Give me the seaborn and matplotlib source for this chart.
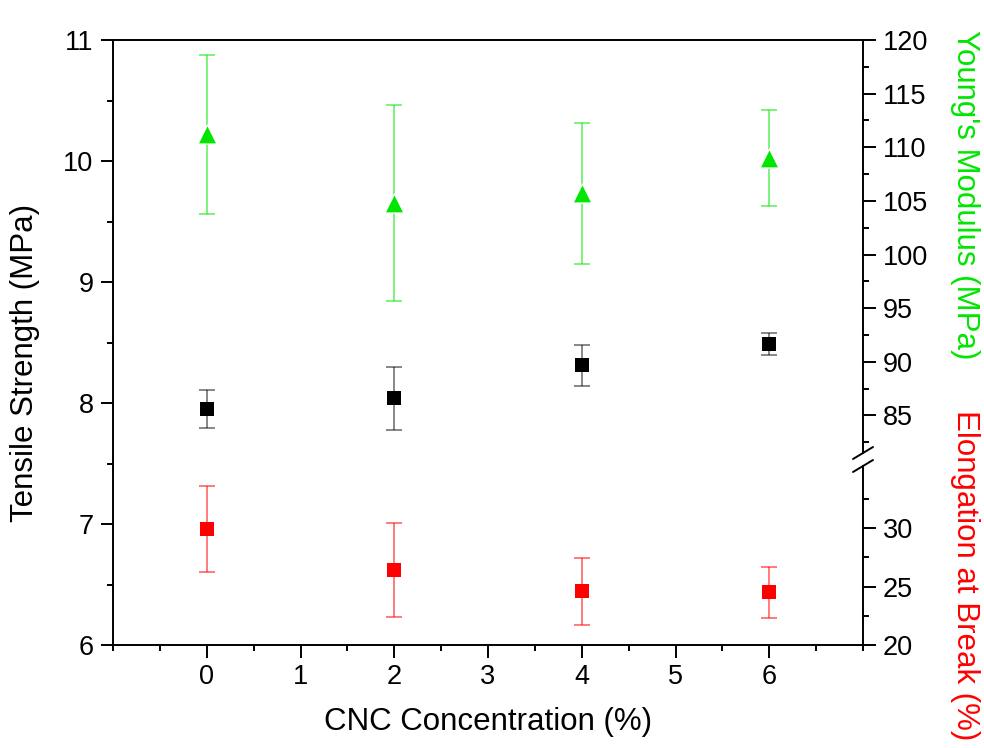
import matplotlib
matplotlib.use('Agg')
import matplotlib.pyplot as plt
import seaborn as sns
import pandas as pd
from matplotlib.ticker import MultipleLocator, FixedLocator
from matplotlib.lines import Line2D

# data
cnc = [0, 2, 4, 6]
tensile = [7.95, 8.04, 8.31, 8.49]
tensile_err = [0.16, 0.26, 0.17, 0.09]
modulus = [111.2, 104.8, 105.7, 109.0]
modulus_err = [7.4, 9.1, 6.6, 4.5]
elongation = [29.9, 26.4, 24.6, 24.5]
elongation_err = [3.7, 4.0, 2.85, 2.2]

sns.set_theme(style='ticks')
plt.rcParams['font.family'] = ['Liberation Sans', 'DejaVu Sans']
plt.rcParams['axes.linewidth'] = 1.4
plt.rcParams['axes.edgecolor'] = 'black'
plt.rcParams['axes.labelcolor'] = 'black'
plt.rcParams['text.color'] = 'black'
for a in ('x', 'y'):
    plt.rcParams[f'{a}tick.color'] = 'black'
    plt.rcParams[f'{a}tick.major.width'] = 1.4
    plt.rcParams[f'{a}tick.minor.width'] = 1.4
    plt.rcParams[f'{a}tick.major.size'] = 9
    plt.rcParams[f'{a}tick.minor.size'] = 4.5
    plt.rcParams[f'{a}tick.major.pad'] = 5
    plt.rcParams[f'{a}tick.direction'] = 'out'
    plt.rcParams[f'{a}tick.labelsize'] = 19.5

green = '#00e600'
red = '#ff0000'
label_fs = 22.5

df = pd.DataFrame({'cnc': cnc, 'tensile': tensile, 'modulus': modulus,
                   'elongation': elongation})

fig = plt.figure(figsize=(9.84, 7.48), dpi=100)
W, H = 984, 748
left, right, top, bottom = 113, 863, 40, 645
brk_hi, brk_lo = 453, 466


def rect(y_top, y_bot):
    return [left / W, (H - y_bot) / H, (right - left) / W, (y_bot - y_top) / H]


ax = fig.add_axes(rect(top, bottom))
ax_up = fig.add_axes(rect(top, brk_hi), sharex=ax)
ax_lo = fig.add_axes(rect(brk_lo, bottom), sharex=ax)

# main axis: tensile strength
ax.errorbar(cnc, tensile, yerr=tensile_err, fmt='none', ecolor='black',
            alpha=0.55, elinewidth=1.2, capsize=6, capthick=1.2)
sns.scatterplot(data=df, x='cnc', y='tensile', ax=ax, marker='s', s=115,
                color='black', edgecolor='black', linewidth=0, zorder=3)
ax.set_xlim(-1, 7)
ax.set_ylim(6, 11)
ax.xaxis.set_major_locator(FixedLocator(range(0, 7)))
ax.xaxis.set_minor_locator(MultipleLocator(0.5))
ax.yaxis.set_major_locator(MultipleLocator(1))
ax.yaxis.set_minor_locator(MultipleLocator(0.5))
ax.spines['right'].set_visible(False)
ax.tick_params(top=False, right=False, which='both')
ax.set_xlabel('CNC Concentration (%)', fontsize=label_fs)
ax.set_ylabel('Tensile Strength (MPa)', fontsize=label_fs)
ax.xaxis.set_label_coords(0.5, -0.127)
ax.yaxis.set_label_coords(-0.117, 0.467)
ax.xaxis.label.set_va('center')
ax.yaxis.label.set_va('center')

# upper right: Young's modulus
ax_up.errorbar(cnc, modulus, yerr=modulus_err, fmt='none', ecolor=green,
               alpha=0.6, elinewidth=1.2, capsize=6, capthick=1.2)
sns.scatterplot(data=df, x='cnc', y='modulus', ax=ax_up, marker='^', s=190,
                color=green, edgecolor='white', linewidth=1, zorder=3)
ax_up.set_ylim(81.5, 120)
ax_up.yaxis.set_major_locator(MultipleLocator(5))
ax_up.yaxis.set_minor_locator(MultipleLocator(2.5))

# lower right: elongation at break
ax_lo.errorbar(cnc, elongation, yerr=elongation_err, fmt='none', ecolor=red,
               alpha=0.6, elinewidth=1.2, capsize=6, capthick=1.2)
sns.scatterplot(data=df, x='cnc', y='elongation', ax=ax_lo, marker='s', s=115,
                color=red, edgecolor=red, linewidth=0, zorder=3)
ax_lo.set_ylim(20, 35.3)
ax_lo.yaxis.set_major_locator(FixedLocator([20, 25, 30]))
ax_lo.yaxis.set_minor_locator(FixedLocator([22.5, 27.5, 32.5]))

for a in (ax_up, ax_lo):
    a.patch.set_visible(False)
    for s in ('left', 'top', 'bottom'):
        a.spines[s].set_visible(False)
    a.yaxis.tick_right()
    a.yaxis.set_label_position('right')
    a.tick_params(axis='x', which='both', bottom=False, labelbottom=False)
    a.tick_params(axis='y', which='both', left=False, right=True)
    a.set_xlabel('')

ax_up.set_ylabel("Young's Modulus (MPa)", color=green, fontsize=label_fs,
                 rotation=270)
ax_lo.set_ylabel('Elongation at Break (%)', color=red, fontsize=label_fs,
                 rotation=270)
xr = (965 - left) / (right - left)
ax_up.yaxis.set_label_coords(xr, (brk_hi - 195) / (brk_hi - top))
ax_lo.yaxis.set_label_coords(xr, (bottom - 575) / (bottom - brk_lo))
for a in (ax_up, ax_lo):
    a.yaxis.label.set_va('center')
    a.yaxis.label.set_ha('center')

# break marks on the right spine
dx, dy = 10 / W, 6 / H
for yp in (brk_hi, brk_lo):
    xf, yf = right / W, (H - yp) / H
    fig.add_artist(Line2D([xf - dx, xf + dx], [yf - dy, yf + dy],
                          color='black', lw=1.4, transform=fig.transFigure))

fig.savefig('out.png', dpi=100)
